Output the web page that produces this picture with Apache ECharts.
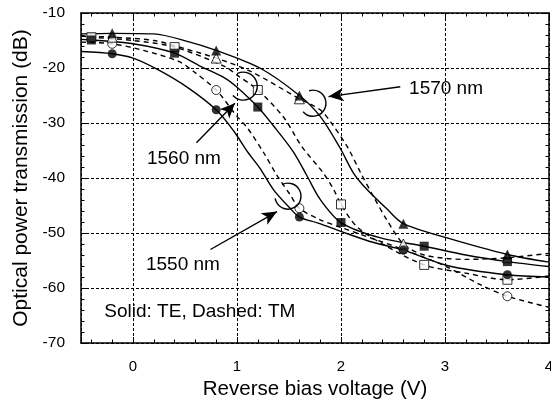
<!DOCTYPE html>
<html><head><meta charset="utf-8">
<script src="https://cdn.jsdelivr.net/npm/echarts@6/dist/echarts.min.js"></script>
<style>html,body{margin:0;padding:0;background:#fff}#c{width:551px;height:407px}</style>
</head><body><div id="c"></div>
<script>
// ---- data ----
// measured points (markers)
const te1550 = [[-0.2,-17.4],[0.8,-27.6],[1.6,-47.1],[2.6,-53.1],[3.6,-57.6]];
const tm1550 = [[-0.2,-15.6],[0.8,-24.0],[1.6,-45.5],[2.6,-53.0],[3.6,-61.5]];
const te1560 = [[-0.4,-14.9],[0.4,-17.3],[1.2,-27.1],[2.0,-48.1],[2.8,-52.4],[3.6,-55.2]];
const tm1560 = [[-0.4,-14.4],[0.4,-16.2],[1.2,-24.0],[2.0,-44.8],[2.8,-55.8],[3.6,-58.5]];
const te1570 = [[-0.2,-13.7],[0.8,-16.8],[1.6,-25.0],[2.6,-48.3],[3.6,-53.9]];
const tm1570 = [[-0.2,-14.4],[0.8,-18.2],[1.6,-25.6],[2.6,-52.0],[3.6,-54.5]];
// traced fitted curves
const te1550Curve = [[-0.5,-17.0],[-0.2,-17.4],[0.0,-18.2],[0.24,-20.3],[0.53,-23.6],[0.8,-27.6],[0.97,-31.5],[1.1,-35.2],[1.22,-38.2],[1.35,-42.1],[1.51,-45.5],[1.6,-47.1],[1.78,-48.2],[2.0,-49.7],[2.27,-51.5],[2.6,-53.1],[3.02,-55.9],[3.6,-57.6],[4.0,-58.0]];
const tm1550Curve = [[-0.5,-15.3],[-0.2,-15.6],[0.1,-16.8],[0.44,-18.8],[0.58,-20.6],[0.8,-24.0],[1.0,-28.8],[1.1,-30.9],[1.26,-35.5],[1.38,-39.4],[1.51,-43.0],[1.6,-45.5],[1.8,-47.6],[2.0,-49.0],[2.3,-51.0],[2.6,-53.0],[3.0,-56.0],[3.34,-59.4],[3.6,-61.5],[4.0,-63.5]];
const te1560Curve = [[-0.5,-14.8],[-0.4,-14.9],[0.0,-15.6],[0.4,-17.3],[0.65,-19.7],[0.88,-21.8],[1.0,-23.5],[1.2,-27.1],[1.35,-30.5],[1.54,-35.2],[1.67,-39.5],[1.8,-43.9],[2.0,-48.1],[2.38,-50.9],[2.8,-52.4],[3.2,-54.0],[3.6,-55.2],[4.0,-56.1]];
const tm1560Curve = [[-0.5,-14.2],[-0.4,-14.4],[0.0,-15.0],[0.4,-16.2],[0.88,-19.7],[1.0,-21.3],[1.2,-24.0],[1.45,-29.0],[1.62,-34.2],[1.83,-39.1],[1.93,-42.1],[2.0,-44.8],[2.15,-48.8],[2.4,-52.0],[2.8,-55.8],[3.2,-57.3],[3.6,-58.5],[4.0,-57.8]];
const te1570Curve = [[-0.5,-13.8],[-0.2,-13.7],[0.2,-13.8],[0.53,-15.2],[0.8,-16.8],[1.22,-20.0],[1.6,-25.0],[1.8,-28.8],[1.99,-34.5],[2.12,-39.1],[2.25,-42.1],[2.44,-45.6],[2.6,-48.3],[3.02,-50.9],[3.6,-53.9],[4.0,-55.3]];
const tm1570Curve = [[-0.5,-14.2],[-0.2,-14.4],[0.2,-15.0],[0.5,-16.5],[0.8,-18.2],[1.13,-20.6],[1.6,-25.6],[1.8,-27.6],[1.9,-29.8],[2.06,-34.3],[2.19,-39.1],[2.31,-43.3],[2.44,-47.6],[2.6,-52.0],[2.8,-54.0],[3.2,-54.8],[3.6,-54.5],[4.0,-53.7]];
const xLabels = [0,1,2,3,4];
const yLabels = [-70,-60,-50,-40,-30,-20,-10];

// ---- annotation placement (data coords) ----
const FONT = '"Liberation Sans", Arial, Helvetica, sans-serif';
const notes = [
  {text:'1570 nm', at:[3.01,-23.7], align:'center'},
  {text:'1560 nm', at:[0.49,-36.5], align:'center'},
  {text:'1550 nm', at:[0.48,-55.85], align:'center'},
  {text:'Solid: TE, Dashed: TM', at:[-0.276,-64.25], align:'left'}
];
const arrows = [
  [[2.57,-23.4],[1.88,-25.2]],
  [[0.61,-33.6],[0.98,-26.4]],
  [[0.745,-53.0],[1.385,-46.1]]
];
const loops = [
  {c:[1.73,-26.4], r:13, a0:-107, a1:139},
  {c:[1.06,-23.3], r:14, a0:-114, a1:138},
  {c:[1.49,-43.3], r:13, a0:-117, a1:170}
];

const chart = echarts.init(document.getElementById('c'), null, {renderer:'canvas'});
const black = '#000';
function curve(pts, dashed){
  return {type:'line', data:pts, smooth:0.3, symbol:'none', showSymbol:false, silent:true,
    lineStyle:{color:black, width:1.4, type: dashed ? [5,4] : 'solid'}, z:2};
}
function marks(pts, symbol, filled, size){
  return {type:'scatter', data:pts, symbol, symbolSize:size, silent:true,
    itemStyle: filled ? {color:black} : {color:'#fff', borderColor:black, borderWidth:1}, z: filled?5:4};
}
const axisCommon = {
  type:'value', min:-0.5, max:4,
  axisLine:{show:true, onZero:false, lineStyle:{color:black, width:1.5}},
  axisTick:{show:true, inside:true, length:6, lineStyle:{color:black, width:1}},
  minorTick:{show:true, splitNumber:5, length:3.5, lineStyle:{color:black, width:1}},
};
const yCommon = {
  type:'value', min:-70, max:-10, interval:10,
  axisLine:{show:true, onZero:false, lineStyle:{color:black, width:1.5}},
  axisTick:{show:true, inside:true, length:6, lineStyle:{color:black}},
  minorTick:{show:true, splitNumber:5, length:3.5, lineStyle:{color:black}},
};
const option = {
  animation:false,
  backgroundColor:'#fff',
  textStyle:{fontFamily:FONT},
  grid:{left:81, right:2, top:13, bottom:64, containLabel:false, outerBoundsMode:'none'},
  xAxis:[
    Object.assign({}, axisCommon, {
      position:'bottom',
      splitLine:{show:true, lineStyle:{color:black, width:1, type:[3,2]}},
      axisLabel:{show:true, color:black, fontSize:15, fontFamily:FONT, margin:16,
        formatter: v => xLabels.includes(v) ? String(v) : ''},
      name:'Reverse bias voltage (V)', nameLocation:'middle', nameGap:35,
      nameTextStyle:{color:black, fontSize:20.5, fontFamily:FONT}
    }),
    Object.assign({}, axisCommon, {position:'top', axisLabel:{show:false}, splitLine:{show:false}})
  ],
  yAxis:[
    Object.assign({}, yCommon, {position:'left',
      splitLine:{show:true, lineStyle:{color:black, width:1, type:[3,2]}},
      axisLabel:{color:black, fontSize:15.5, fontFamily:FONT, margin:16,
        formatter: v => yLabels.includes(v) ? String(v) : ''},
      name:'Optical power transmission (dB)', nameLocation:'middle', nameGap:45, nameRotate:90,
      nameTextStyle:{color:black, fontSize:21, fontFamily:FONT}
    }),
    Object.assign({}, yCommon, {position:'right', splitLine:{show:false}, axisLabel:{show:false}})
  ],
  series:[
    curve(te1550Curve,false), curve(tm1550Curve,true),
    curve(te1560Curve,false), curve(tm1560Curve,true),
    curve(te1570Curve,false), curve(tm1570Curve,true),
    marks(tm1550,'circle',false,9), marks(tm1560,'rect',false,9), marks(tm1570,'triangle',false,10),
    marks(te1550,'circle',true,9), marks(te1560,'rect',true,9), marks(te1570,'triangle',true,10),
    {type:'line', data:[], silent:true,
      markLine:{silent:true, animation:false, symbol:['none','arrow'], symbolSize:[10,15],
        label:{show:false}, lineStyle:{color:black, width:1.4, type:'solid'},
        emphasis:{disabled:true},
        data: arrows.map(a => [{coord:a[0]},{coord:a[1]}])}}
  ]
};
chart.setOption(option);
const g = [];
notes.forEach(n => {
  const p = chart.convertToPixel({gridIndex:0}, n.at);
  g.push({type:'text', x:p[0], y:p[1], silent:true, z:10,
    style:{text:n.text, fill:black, fontSize:19, fontFamily:FONT, align:n.align, verticalAlign:'middle'}});
});
loops.forEach(l => {
  const p = chart.convertToPixel({gridIndex:0}, l.c);
  g.push({type:'arc', silent:true, z:10,
    shape:{cx:p[0], cy:p[1], r:l.r, startAngle:l.a0*Math.PI/180, endAngle:l.a1*Math.PI/180, clockwise:true},
    style:{stroke:black, fill:null, lineWidth:1.4}});
});
chart.setOption({graphic:g});
</script>
</body></html>
